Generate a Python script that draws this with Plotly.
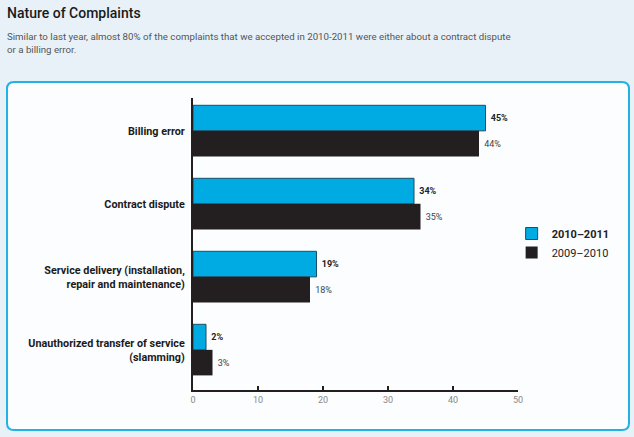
import plotly.graph_objects as go

categories = ["Billing error", "Contract dispute",
              "Service delivery (installation,<br>repair and maintenance)",
              "Unauthorized transfer of service<br>(slamming)"]
series_2011 = [45, 34, 19, 2]
series_2010 = [44, 35, 18, 3]
series_names = ["2010\u20132011", "2009\u20132010"]
x_ticks = [0, 10, 20, 30, 40, 50]

FONT = "Roboto"

fig = go.Figure()
fig.add_trace(go.Bar(
    y=categories, x=series_2011, orientation="h", name="<b>" + series_names[0] + "</b>",
    marker=dict(color="#00aae2", line=dict(color="#1b4f63", width=1)),
    text=[" <b>%d%%</b>" % v for v in series_2011], textposition="outside",
    textfont=dict(size=9, color="#222222", family=FONT), cliponaxis=False,
))
fig.add_trace(go.Bar(
    y=categories, x=series_2010, orientation="h", name=series_names[1],
    marker=dict(color="#231f20", line=dict(color="#231f20", width=0)),
    text=[" %d%%" % v for v in series_2010], textposition="outside",
    textfont=dict(size=9, color="#444444", family=FONT), cliponaxis=False,
))

W, H = 634, 437
x0, x1, y0, y1, r = 7, 629, 82, 430, 7
path = (f"M {x0+r},{y0} L {x1-r},{y0} Q {x1},{y0} {x1},{y0+r} L {x1},{y1-r} "
        f"Q {x1},{y1} {x1-r},{y1} L {x0+r},{y1} Q {x0},{y1} {x0},{y1-r} "
        f"L {x0},{y0+r} Q {x0},{y0} {x0+r},{y0} Z")

def px_path(p):
    out = []
    for tok in p.split():
        if "," in tok:
            a, b = tok.split(",")
            out.append(f"{float(a)/W:.5f},{1-float(b)/H:.5f}")
        else:
            out.append(tok)
    return " ".join(out)

fig.update_layout(
    width=W, height=H,
    margin=dict(l=0, r=0, t=0, b=0, autoexpand=False),
    paper_bgcolor="#e8f1f7",
    plot_bgcolor="rgba(0,0,0,0)",
    barmode="group", bargap=0.3, bargroupgap=0,
    font=dict(family=FONT, color="#222222"),
    showlegend=True,
    legend=dict(x=0.807, y=1-243/H, xanchor="left", yanchor="middle",
                traceorder="normal", bgcolor="rgba(0,0,0,0)",
                font=dict(size=11, color="#222222", family=FONT),
                itemwidth=30, tracegroupgap=0),
    xaxis=dict(domain=[193/W, 518/W], range=[0, 50], tickvals=x_ticks,
               showgrid=False, zeroline=False, showline=True, linecolor="#231f20",
               linewidth=2, ticks="inside", ticklen=4, tickwidth=2, tickcolor="#231f20",
               tickfont=dict(size=9, color="#888888", family=FONT), automargin=False),
    yaxis=dict(domain=[1-390/H, 1-98/H], range=[3.55, -0.45], type="category",
               showgrid=False, zeroline=False, showline=True, linecolor="#231f20",
               linewidth=2, ticks="", ticklabelstandoff=4, automargin=False,
               tickfont=dict(size=10.8, color="#1a1a1a", family=FONT, weight="bold")),
    shapes=[dict(type="path", xref="paper", yref="paper", path=px_path(path),
                 line=dict(color="#22b2e6", width=2), fillcolor="#fbfdfe", layer="below")],
    annotations=[
        dict(text="Nature of Complaints", xref="paper", yref="paper", x=5/W, y=1-13/H,
             xanchor="left", yanchor="middle", showarrow=False,
             font=dict(size=14, color="#1a1a1a", family=FONT, weight=500)),
        dict(text="Similar to last year, almost 80% of the complaints that we accepted in 2010-2011 were either about a contract dispute<br>or a billing error.",
             xref="paper", yref="paper", x=5/W, y=1-29/H, xanchor="left", yanchor="top",
             align="left", showarrow=False,
             font=dict(size=9.7, color="#555555", family=FONT)),
    ],
)

fig.write_html("out.html", config={"displayModeBar": False},
               post_script="document.body.style.margin='0';document.body.style.overflow='hidden';")
